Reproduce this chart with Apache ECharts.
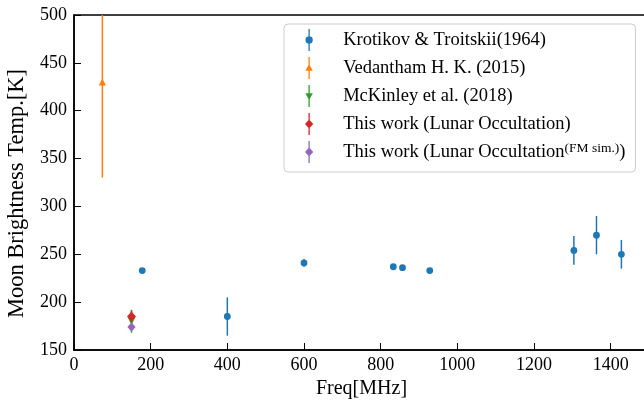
<!DOCTYPE html>
<html>
<head>
<meta charset="utf-8">
<script src="https://cdn.jsdelivr.net/npm/echarts@6/dist/echarts.min.js"></script>
<style>
  html, body { margin: 0; padding: 0; background: #fff; }
  #chart { width: 644px; height: 403px; }
</style>
</head>
<body>
<div id="chart"></div>
<script>
// Moon brightness temperature measurements vs frequency (values with symmetric errors)
const krotikovFreq = [178, 400, 600, 833, 857, 928, 1304, 1363, 1428];
const krotikovTemp = [233, 185, 241, 237, 236, 233, 254, 270, 250];
const krotikovErr  = [2, 20, 4, 1, 1, 1, 15, 20, 15];

const vedanthamFreq = [74];
const vedanthamTemp = [430];
const vedanthamErr  = [100];

const mckinleyFreq = [150];
const mckinleyTemp = [180];
const mckinleyErr  = [12];

const occultFreq = [150];
const occultTemp = [185];
const occultErr  = [6];

const occultFmFreq = [150];
const occultFmTemp = [174];
const occultFmErr  = [3];

const seriesNames = [
  'Krotikov & Troitskii(1964)',
  'Vedantham H. K. (2015)',
  'McKinley et al. (2018)',
  'This work (Lunar Occultation)',
  'This work (Lunar Occultation FM sim.)'
];

const xTicks = { min: 0, max: 1500, step: 200 };
const yTicks = { min: 150, max: 500, step: 50 };

const FONT = 'Liberation Serif';

// marker outline builders, centred on (cx, cy)
function markerShape(kind, cx, cy, s, color) {
  if (kind === 'circle') {
    return { type: 'circle', shape: { cx: cx, cy: cy, r: s }, style: { fill: color } };
  }
  let pts;
  if (kind === 'triUp') pts = [[cx, cy - s], [cx + s, cy + s], [cx - s, cy + s]];
  else if (kind === 'triDown') pts = [[cx, cy + s], [cx - s, cy - s], [cx + s, cy - s]];
  else pts = [[cx, cy - s], [cx + s * 0.9, cy], [cx, cy + s], [cx - s * 0.9, cy]];
  return { type: 'polygon', shape: { points: pts }, style: { fill: color } };
}

function errorSeries(name, xs, ys, es, color, kind, size) {
  const data = xs.map((x, i) => [x, ys[i], es[i]]);
  return {
    type: 'custom',
    name: name,
    data: data,
    itemStyle: { color: color },
    renderItem: function (params, api) {
      const cs = params.coordSys;
      const x = api.value(0), y = api.value(1), e = api.value(2);
      const p = api.coord([x, y]);
      let top = api.coord([x, y + e])[1];
      let bot = api.coord([x, y - e])[1];
      top = Math.max(top, cs.y);
      bot = Math.min(bot, cs.y + cs.height);
      return {
        type: 'group',
        children: [
          { type: 'line', shape: { x1: p[0], y1: top, x2: p[0], y2: bot },
            style: { stroke: color, lineWidth: 1.5 } },
          markerShape(kind, p[0], p[1], size, color)
        ]
      };
    }
  };
}

// legend glyphs: vertical error bar with the marker in the middle (10 x 24 box)
const iconCircle = 'path://M4.3,0 L5.7,0 L5.7,8.5 L4.3,8.5 Z M4.3,15.5 L5.7,15.5 L5.7,24 L4.3,24 Z M1,12 A4,4 0 1,1 9,12 A4,4 0 1,1 1,12 Z';
const iconTriUp = 'path://M4.3,0 L5.7,0 L5.7,9 L4.3,9 Z M4.3,14 L5.7,14 L5.7,24 L4.3,24 Z M5,7.5 L9,15 L1,15 Z';
const iconTriDown = 'path://M4.3,0 L5.7,0 L5.7,10 L4.3,10 Z M4.3,15 L5.7,15 L5.7,24 L4.3,24 Z M1,9 L9,9 L5,16.5 Z';
const iconDiamond = 'path://M4.3,0 L5.7,0 L5.7,8 L4.3,8 Z M4.3,16 L5.7,16 L5.7,24 L4.3,24 Z M5,7 L9.5,12 L5,17 L0.5,12 Z';

const chart = echarts.init(document.getElementById('chart'), null, { renderer: 'canvas' });

chart.setOption({
  animation: false,
  backgroundColor: '#ffffff',
  grid: {
    left: 74, top: 15, right: -5, bottom: 53,
    outerBoundsMode: 'none',
    containLabel: false,
    show: true, borderColor: '#000', borderWidth: 1.5, backgroundColor: 'transparent'
  },
  xAxis: {
    type: 'value',
    min: xTicks.min, max: xTicks.max, interval: xTicks.step,
    name: 'Freq[MHz]',
    nameLocation: 'middle',
    nameGap: 28,
    nameTextStyle: { fontFamily: FONT, fontSize: 20, color: '#000' },
    axisLine: { show: true, lineStyle: { color: '#000', width: 1.5 } },
    axisTick: { show: true, inside: true, length: 7, lineStyle: { color: '#000', width: 1 } },
    axisLabel: {
      fontFamily: FONT, fontSize: 18, color: '#000', margin: 6, showMaxLabel: false,
      formatter: function (v) { return String(v); }
    },
    splitLine: { show: false }
  },
  yAxis: {
    type: 'value',
    min: yTicks.min, max: yTicks.max, interval: yTicks.step,
    name: 'Moon Brightness Temp.[K]',
    nameLocation: 'middle',
    nameGap: 45,
    nameRotate: 90,
    nameTextStyle: { fontFamily: FONT, fontSize: 22.5, color: '#000', padding: [0, 22, 0, 0] },
    axisLine: { show: true, lineStyle: { color: '#000', width: 1.5 } },
    axisTick: { show: true, inside: true, length: 7, lineStyle: { color: '#000', width: 1 } },
    axisLabel: {
      fontFamily: FONT, fontSize: 18, color: '#000', margin: 7,
      formatter: function (v) { return String(v); }
    },
    splitLine: { show: false }
  },
  legend: {
    orient: 'vertical',
    left: 284, top: 24,
    selectedMode: false,
    backgroundColor: 'rgba(255,255,255,0.8)',
    borderColor: '#cccccc', borderWidth: 1, borderRadius: 4,
    padding: [5, 10, 9, 21],
    itemWidth: 10, itemHeight: 22,
    itemGap: 6,
    data: [
      { name: seriesNames[0], icon: iconCircle },
      { name: seriesNames[1], icon: iconTriUp },
      { name: seriesNames[2], icon: iconTriDown },
      { name: seriesNames[3], icon: iconDiamond },
      { name: seriesNames[4], icon: iconDiamond }
    ],
    formatter: function (name) {
      if (name === seriesNames[4]) {
        return '{t|This work (Lunar Occultation}{s|(FM sim.)}{t|)}';
      }
      return '{t|' + name + '}';
    },
    textStyle: {
      fontFamily: FONT, fontSize: 18, color: '#000',
      padding: [0, 0, 0, 24],
      rich: {
        t: { fontFamily: FONT, fontSize: 18.5, color: '#000', lineHeight: 22 },
        s: { fontFamily: FONT, fontSize: 13.5, color: '#000', lineHeight: 13, verticalAlign: 'top' }
      }
    }
  },
  series: [
    errorSeries(seriesNames[0], krotikovFreq, krotikovTemp, krotikovErr, '#1f77b4', 'circle', 3.4),
    errorSeries(seriesNames[1], vedanthamFreq, vedanthamTemp, vedanthamErr, '#ff7f0e', 'triUp', 3.6),
    errorSeries(seriesNames[2], mckinleyFreq, mckinleyTemp, mckinleyErr, '#2ca02c', 'triDown', 3.6),
    errorSeries(seriesNames[3], occultFreq, occultTemp, occultErr, '#d62728', 'diamond', 5),
    errorSeries(seriesNames[4], occultFmFreq, occultFmTemp, occultFmErr, '#9467bd', 'diamond', 4.6)
  ]
});
</script>
</body>
</html>
